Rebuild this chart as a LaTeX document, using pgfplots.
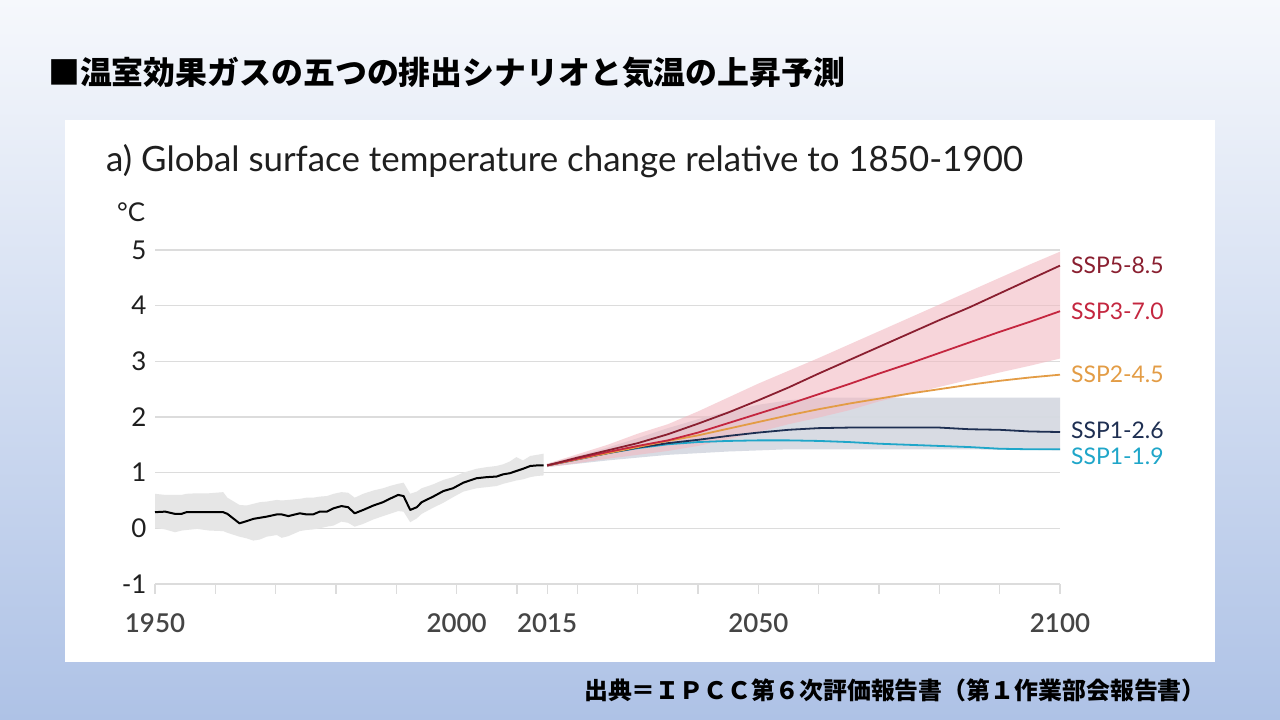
\documentclass[border=0pt]{standalone}
\usepackage{fontspec}
\setmainfont{Lato}
\newfontfamily\latosemi{Lato Semibold}
\newfontfamily\jp{Noto Sans CJK JP}
\usepackage{pgfplots}
\pgfplotsset{compat=1.18}
\usepackage{pgfplotstable}
\usepgfplotslibrary{fillbetween}

\definecolor{bgtop}{HTML}{F6F8FC}
\definecolor{bgbot}{HTML}{AEC2E6}
\definecolor{gridgray}{HTML}{DCDCDC}
\definecolor{tickgray}{HTML}{454545}
\definecolor{histband}{HTML}{E6E6E6}
\definecolor{grayband}{HTML}{D6DAE2}
\definecolor{redband}{HTML}{F2B8C0}
\definecolor{cfive}{HTML}{8A1F30}
\definecolor{cthree}{HTML}{C4263F}
\definecolor{ctwo}{HTML}{E39C45}
\definecolor{conesix}{HTML}{1E2F52}
\definecolor{conenine}{HTML}{1FA6C9}

\pgfplotstableread{
year val lo hi
1950 0.29 0.01 0.62
1951.7 0.30 -0.02 0.60
1953.3 0.26 -0.07 0.60
1954.4 0.26 -0.04 0.60
1955.2 0.29 -0.03 0.62
1957 0.29 -0.01 0.63
1959 0.29 -0.04 0.63
1961.3 0.29 -0.05 0.65
1962 0.26 -0.08 0.55
1964 0.09 -0.15 0.42
1965.2 0.13 -0.18 0.41
1966.3 0.17 -0.22 0.44
1967.4 0.19 -0.20 0.47
1968.5 0.21 -0.15 0.48
1970.2 0.25 -0.12 0.51
1971 0.25 -0.17 0.50
1972.1 0.22 -0.14 0.51
1974 0.27 -0.05 0.53
1975.1 0.25 -0.03 0.55
1976.2 0.25 -0.02 0.55
1977.3 0.30 0.00 0.57
1978.5 0.30 0.03 0.58
1979.6 0.36 0.05 0.62
1980.9 0.40 0.12 0.65
1982 0.38 0.10 0.64
1983.1 0.27 0.03 0.55
1984.5 0.33 0.08 0.62
1986.2 0.41 0.16 0.68
1987.8 0.47 0.22 0.72
1988.9 0.53 0.26 0.76
1990.3 0.60 0.31 0.80
1991.2 0.58 0.30 0.82
1992.3 0.33 0.11 0.62
1993.4 0.38 0.18 0.66
1994.2 0.47 0.26 0.72
1996.1 0.57 0.37 0.79
1997.8 0.67 0.46 0.87
1999.4 0.72 0.56 0.92
2001.1 0.82 0.66 1.00
2003.3 0.90 0.72 1.07
2005 0.92 0.74 1.10
2006.6 0.93 0.76 1.12
2007.7 0.97 0.80 1.15
2008.8 0.99 0.83 1.20
2009.9 1.03 0.86 1.28
2011 1.07 0.88 1.22
2012.2 1.12 0.92 1.30
2013.3 1.13 0.94 1.32
2014.4 1.13 0.95 1.34
}\hist

\pgfplotstableread{
year s5 s3 s2 s126 s119 rlo rhi glo ghi
2015 1.13 1.13 1.13 1.13 1.13 1.10 1.16 1.10 1.16
2020 1.27 1.25 1.24 1.24 1.24 1.17 1.33 1.16 1.30
2025 1.40 1.37 1.35 1.35 1.35 1.25 1.50 1.22 1.45
2030 1.53 1.48 1.46 1.45 1.44 1.32 1.70 1.27 1.62
2035 1.69 1.58 1.57 1.53 1.51 1.39 1.87 1.32 1.80
2040 1.88 1.72 1.67 1.59 1.55 1.48 2.10 1.35 1.96
2045 2.08 1.89 1.79 1.66 1.57 1.60 2.35 1.38 2.10
2050 2.30 2.06 1.91 1.72 1.58 1.73 2.60 1.40 2.22
2055 2.53 2.23 2.03 1.77 1.58 1.87 2.83 1.42 2.30
2060 2.78 2.41 2.14 1.80 1.57 1.99 3.06 1.42 2.35
2065 3.02 2.59 2.24 1.81 1.55 2.12 3.30 1.42 2.35
2070 3.26 2.78 2.33 1.81 1.52 2.28 3.54 1.42 2.35
2075 3.50 2.96 2.42 1.81 1.50 2.41 3.78 1.42 2.35
2080 3.74 3.15 2.50 1.81 1.48 2.54 4.02 1.42 2.35
2085 3.97 3.34 2.58 1.78 1.46 2.67 4.26 1.42 2.35
2090 4.22 3.53 2.65 1.77 1.43 2.80 4.50 1.41 2.35
2095 4.47 3.71 2.71 1.74 1.42 2.92 4.74 1.41 2.35
2100 4.72 3.90 2.76 1.73 1.42 3.05 4.97 1.40 2.35
}\proj

\begin{document}
\begin{tikzpicture}[x=1bp,y=1bp]
\node[anchor=west, inner sep=0] at (48,647) {\jp\bfseries\fontsize{32}{36}\selectfont ■温室効果ガスの五つの排出シナリオと気温の上昇予測};
\node[anchor=east, inner sep=0] at (1206,30) {\jp\bfseries\fontsize{24}{28}\selectfont 出典＝ＩＰＣＣ第６次評価報告書（第１作業部会報告書）};
\node[anchor=base west, inner sep=0, text=black!88] at (106,548) {\fontsize{35}{40}\selectfont a) Global surface temperature change relative to 1850-1900};
\node[anchor=base west, inner sep=0, text=black!88] at (117,498) {\fontsize{26}{30}\selectfont °C};

\begin{axis}[
  at={(155bp,136bp)}, anchor=south west,
  scale only axis, width=905bp, height=334bp,
  xmin=1950, xmax=2100, ymin=-1, ymax=5,
  set layers,
  clip=false,
  axis line style={draw=none},
  ymajorgrids,
  major grid style={draw=gridgray, line width=1.6bp},
  ytick={-1,0,1,2,3,4,5},
  yticklabels={-1,0,1,2,3,4,5},
  ytick style={draw=none},
  ytick pos=left,
  xtick={1950,1960,1970,1980,1990,2000,2010,2015,2020,2030,2040,2050,2060,2070,2080,2090,2100},
  xticklabels={1950,,,,,2000,,2015,,,,2050,,,,,2100},
  xtick pos=bottom,
  xtick align=outside,
  major tick length=10bp,
  xtick style={draw=gridgray, line width=1.2bp},
  xticklabel style={font=\latosemi\fontsize{26}{30}\selectfont, text=tickgray, yshift=-16bp},
  yticklabel style={font=\fontsize{26}{30}\selectfont, text=black!88, xshift=-5bp},
]
\begin{pgfonlayer}{axis background}
\shade[top color=bgtop, bottom color=bgbot] ([shift={(-155bp,-136bp)}]rel axis cs:0,0) rectangle ([shift={(1125bp,584bp)}]rel axis cs:0,0);
\fill[white] ([shift={(-90bp,-78bp)}]rel axis cs:0,0) rectangle ([shift={(1060bp,464bp)}]rel axis cs:0,0);
\end{pgfonlayer}

\addplot[name path=hu, draw=none, forget plot] table[x=year,y=hi] {\hist};
\addplot[name path=hl, draw=none, forget plot] table[x=year,y=lo] {\hist};
\addplot[fill=histband, draw=none] fill between[of=hu and hl];

\addplot[name path=gu, draw=none, forget plot] table[x=year,y=ghi] {\proj};
\addplot[name path=gl, draw=none, forget plot] table[x=year,y=glo] {\proj};
\addplot[fill=grayband, draw=none, fill opacity=0.95] fill between[of=gu and gl];

\addplot[name path=ru, draw=none, forget plot] table[x=year,y=rhi] {\proj};
\addplot[name path=rl, draw=none, forget plot] table[x=year,y=rlo] {\proj};
\addplot[fill=redband, draw=none, fill opacity=0.58] fill between[of=ru and rl];

\addplot[conenine, line width=1.8bp] table[x=year,y=s119] {\proj};
\addplot[conesix, line width=1.8bp] table[x=year,y=s126] {\proj};
\addplot[ctwo, line width=1.8bp] table[x=year,y=s2] {\proj};
\addplot[cthree, line width=1.8bp] table[x=year,y=s3] {\proj};
\addplot[cfive, line width=1.8bp] table[x=year,y=s5] {\proj};
\addplot[black, line width=2bp, line join=round] table[x=year,y=val] {\hist};

\begin{scope}[every node/.style={anchor=west, inner sep=0, xshift=11bp, font=\fontsize{23}{27}\selectfont}]
\node[text=cfive] at (axis cs:2100,4.72) {SSP5-8.5};
\node[text=cthree] at (axis cs:2100,3.90) {SSP3-7.0};
\node[text=ctwo] at (axis cs:2100,2.76) {SSP2-4.5};
\node[text=conesix] at (axis cs:2100,1.77) {SSP1-2.6};
\node[text=conenine] at (axis cs:2100,1.29) {SSP1-1.9};
\end{scope}
\end{axis}
\end{tikzpicture}
\end{document}
